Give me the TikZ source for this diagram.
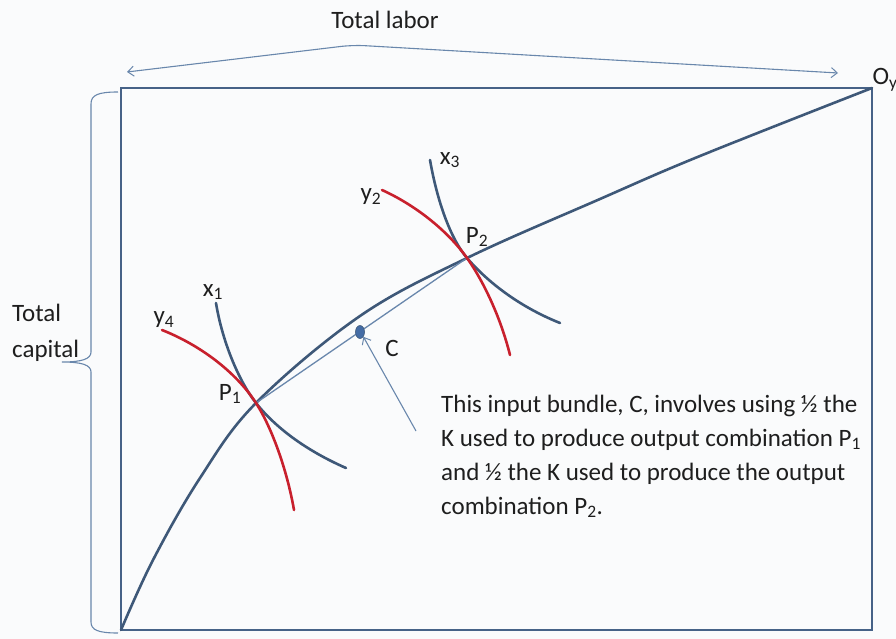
\documentclass[tikz,border=0pt]{standalone}
\usepackage{fontspec}
\setmainfont{Carlito}
\usetikzlibrary{arrows.meta,shapes.geometric}
\definecolor{bg}{RGB}{250,251,252}
\definecolor{frameblue}{RGB}{70,98,135}
\definecolor{curveblue}{RGB}{62,88,120}
\definecolor{isored}{RGB}{200,32,45}
\definecolor{thinblue}{RGB}{105,135,172}
\definecolor{dotblue}{RGB}{68,108,165}
\definecolor{txt}{RGB}{30,30,30}
\tikzset{
  lbl/.style={inner sep=0pt, text=txt, font=\fontsize{25}{29}\selectfont},
  body/.style={inner sep=0pt, anchor=base west, text=txt, font=\fontsize{25}{34}\selectfont},
  thick3/.style={line width=2.6pt, line cap=round},
  thinline/.style={line width=1.1pt, draw=thinblue},
  barb/.style={-{Straight Barb[length=6pt,width=10pt,line width=1pt]}},
}
\begin{document}
\begin{tikzpicture}[x=1pt,y=-1pt]
\fill[bg] (0,0) rectangle (896,639);
\useasboundingbox (0,0) rectangle (896,639);
% frame
\coordinate (O) at (121,630);
\coordinate (Oy) at (872,88);
\draw[line width=2.6pt, draw=frameblue] (121,88) rectangle (872,630);
% named points
\coordinate (P1) at (256,403);
\coordinate (P2) at (467,258);
% contract curve
\draw[thick3, draw=curveblue] plot[smooth, tension=0.6] coordinates
  {(O) (153,560) (200,478) (P1) (360,316) (P2) (600,199) (700,156) (Oy)};
% chord
\draw[thinline, line width=1.3pt] (P1) -- (P2);
% isoquants x1, y4
\draw[thick3, draw=curveblue] (216,303) .. controls (222,340) and (238,380) .. (P1)
  .. controls (275,427) and (305,450) .. (346,468);
\draw[thick3, draw=isored] (162,330) .. controls (200,345) and (236,372) .. (P1)
  .. controls (272,428) and (287,470) .. (294,510);
% isoquants x3, y2
\draw[thick3, draw=curveblue] (430,160) .. controls (437,200) and (450,238) .. (P2)
  .. controls (484,278) and (515,305) .. (560,323);
\draw[thick3, draw=isored] (382,190) .. controls (415,205) and (447,230) .. (P2)
  .. controls (482,279) and (500,315) .. (510,355);
% point C
\node[ellipse, minimum width=9pt, minimum height=13pt, inner sep=0pt, fill=dotblue, draw=curveblue, line width=0.6pt] (C) at (360,332) {};
\coordinate (Ctail) at (416,431);
\draw[thinline, barb] (Ctail) -- (C.south east);
% labels
\node[lbl] (lx1) at (213,292) {x\textsubscript{1}};
\node[lbl] (ly4) at (164,320) {y\textsubscript{4}};
\node[lbl] (lP1) at (230,394) {P\textsubscript{1}};
\node[lbl] (lx3) at (450,160) {x\textsubscript{3}};
\node[lbl] (ly2) at (371,197) {y\textsubscript{2}};
\node[lbl] (lP2) at (477,237) {P\textsubscript{2}};
\node[lbl] (lC) at (392,348) {C};
\node[lbl] (lOy) at (885,80) {O\textsubscript{y}};
% top label and arrows
\node[lbl] (tl) at (385,20) {Total labor};
\coordinate (tlL) at (127,72);
\coordinate (tlM) at (353,45);
\coordinate (tlR) at (838,73);
\draw[thinline, rounded corners=12pt, {Straight Barb[length=6pt,width=10pt,line width=1pt]}-{Straight Barb[length=6pt,width=10pt,line width=1pt]}] (tlL) -- (tlM) -- (tlR);
% left brace
\draw[thinline] (118,92) .. controls (98,92) and (91,95) .. (91,104) -- (91,352)
  .. controls (91,359) and (82,362) .. (62,362)
  .. controls (82,362) and (91,365) .. (91,372) -- (91,622)
  .. controls (91,630) and (98,633) .. (118,633);
\node[lbl, anchor=base west] (tc1) at (12,321) {Total};
\node[lbl, anchor=base west] (tc2) at (12,357) {capital};
% description
\node[body] (d1) at (441,412) {This input bundle, C, involves using ½ the};
\node[body] (d2) at (441,446) {K used to produce output combination P\textsubscript{1}};
\node[body] (d3) at (441,480) {and ½ the K used to produce the output};
\node[body] (d4) at (441,514) {combination P\textsubscript{2}.};
\end{tikzpicture}
\end{document}
